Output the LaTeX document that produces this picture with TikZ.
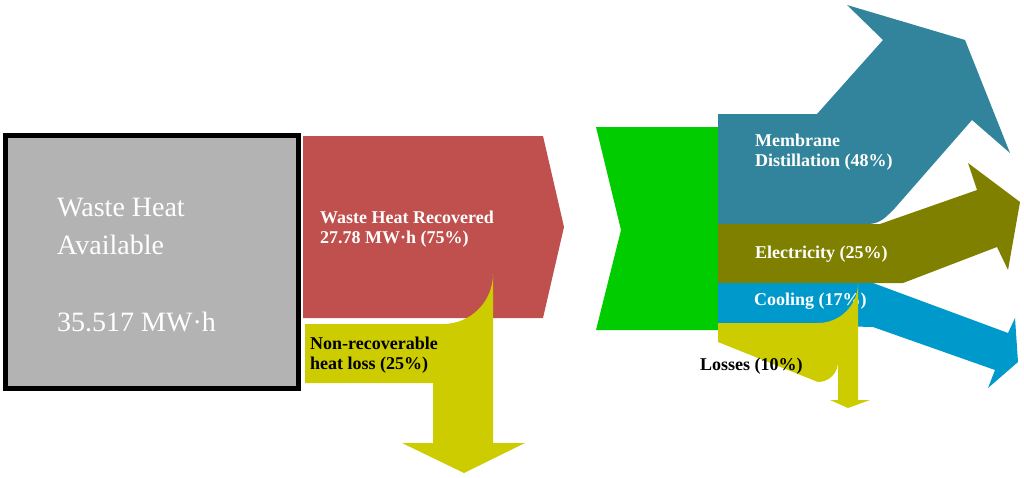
\documentclass[tikz,border=0pt]{standalone}
\usepackage{fontspec}
\setmainfont{Liberation Serif}
\definecolor{gr}{HTML}{B3B3B3}
\definecolor{rd}{HTML}{C0504D}
\definecolor{yl}{HTML}{CCCC00}
\definecolor{gn}{HTML}{00CC00}
\definecolor{tl}{HTML}{31849B}
\definecolor{ol}{HTML}{808000}
\definecolor{cy}{HTML}{0099CC}
\begin{document}
\begin{tikzpicture}[x=1pt,y=-1pt,
  lbl/.style={font=\bfseries\fontsize{18}{20}\selectfont,align=left,anchor=west,inner sep=0pt},
  big/.style={font=\fontsize{28}{38}\selectfont,text=white,align=left,anchor=west,inner sep=0pt}]
\useasboundingbox (0,0) rectangle (1024,477);
% gray box
\draw[fill=gr,line width=5pt] (5.5,135.5) rectangle (298,388);
\node[big] (avail) at (57,226) {Waste Heat\\Available};
\node[big] (val) at (57,322) {35.517 MW·h};
% red
\fill[rd] (303,136) -- (543,136) -- (564,227) -- (543,318) -- (303,318) -- cycle;
\node[lbl,text=white] (rec) at (320,229) {Waste Heat Recovered\\27.78 MW·h (75\%)};
% non-recoverable
\fill[yl] (305,324) -- (443,324) arc[start angle=90,end angle=0,radius=50] -- (493,443) -- (525,443) -- (464,473) -- (402,443) -- (433,443) -- (433,383) -- (305,383) -- cycle;
\node[lbl] (nr) at (310,355) {Non-recoverable\\heat loss (25\%)};
% green
\fill[gn] (596,127) -- (718,127) -- (718,330) -- (596,330) -- (621,230) -- cycle;
% membrane
\fill[tl] (718,114) -- (817,114) -- (883,40) -- (847,5) -- (965,40) -- (1010,153) -- (972,120) -- (895,208) to[out=225,in=0] (868,224) -- (718,224) -- cycle;
\node[lbl,text=white] (md) at (755,152) {Membrane\\Distillation (48\%)};
% electricity
\fill[ol] (718,224) -- (880,224) -- (977,190) -- (968,163) -- (1020,202) -- (1008,270) -- (997,247) -- (903,283) -- (718,283) -- cycle;
\node[lbl,text=white] (el) at (755,254) {Electricity (25\%)};
% cooling
\fill[cy] (718,283) -- (873,283) -- (1008,333) -- (1015,318) -- (1018,362) -- (988,388) -- (995,370) -- (873,327) -- (718,323) -- cycle;
\node[lbl,text=white] (co) at (754,301) {Cooling (17\%)};
% losses
\fill[yl] (718,323) -- (818,323) arc[start angle=90,end angle=0,radius=40] -- (858,400) -- (870,400) -- (848,408) -- (830,400) -- (838,400) -- (838,362) arc[start angle=0,end angle=90,radius=20] -- (718,342) -- cycle;
\node[lbl] (lo) at (700,366) {Losses (10\%)};
\end{tikzpicture}
\end{document}
